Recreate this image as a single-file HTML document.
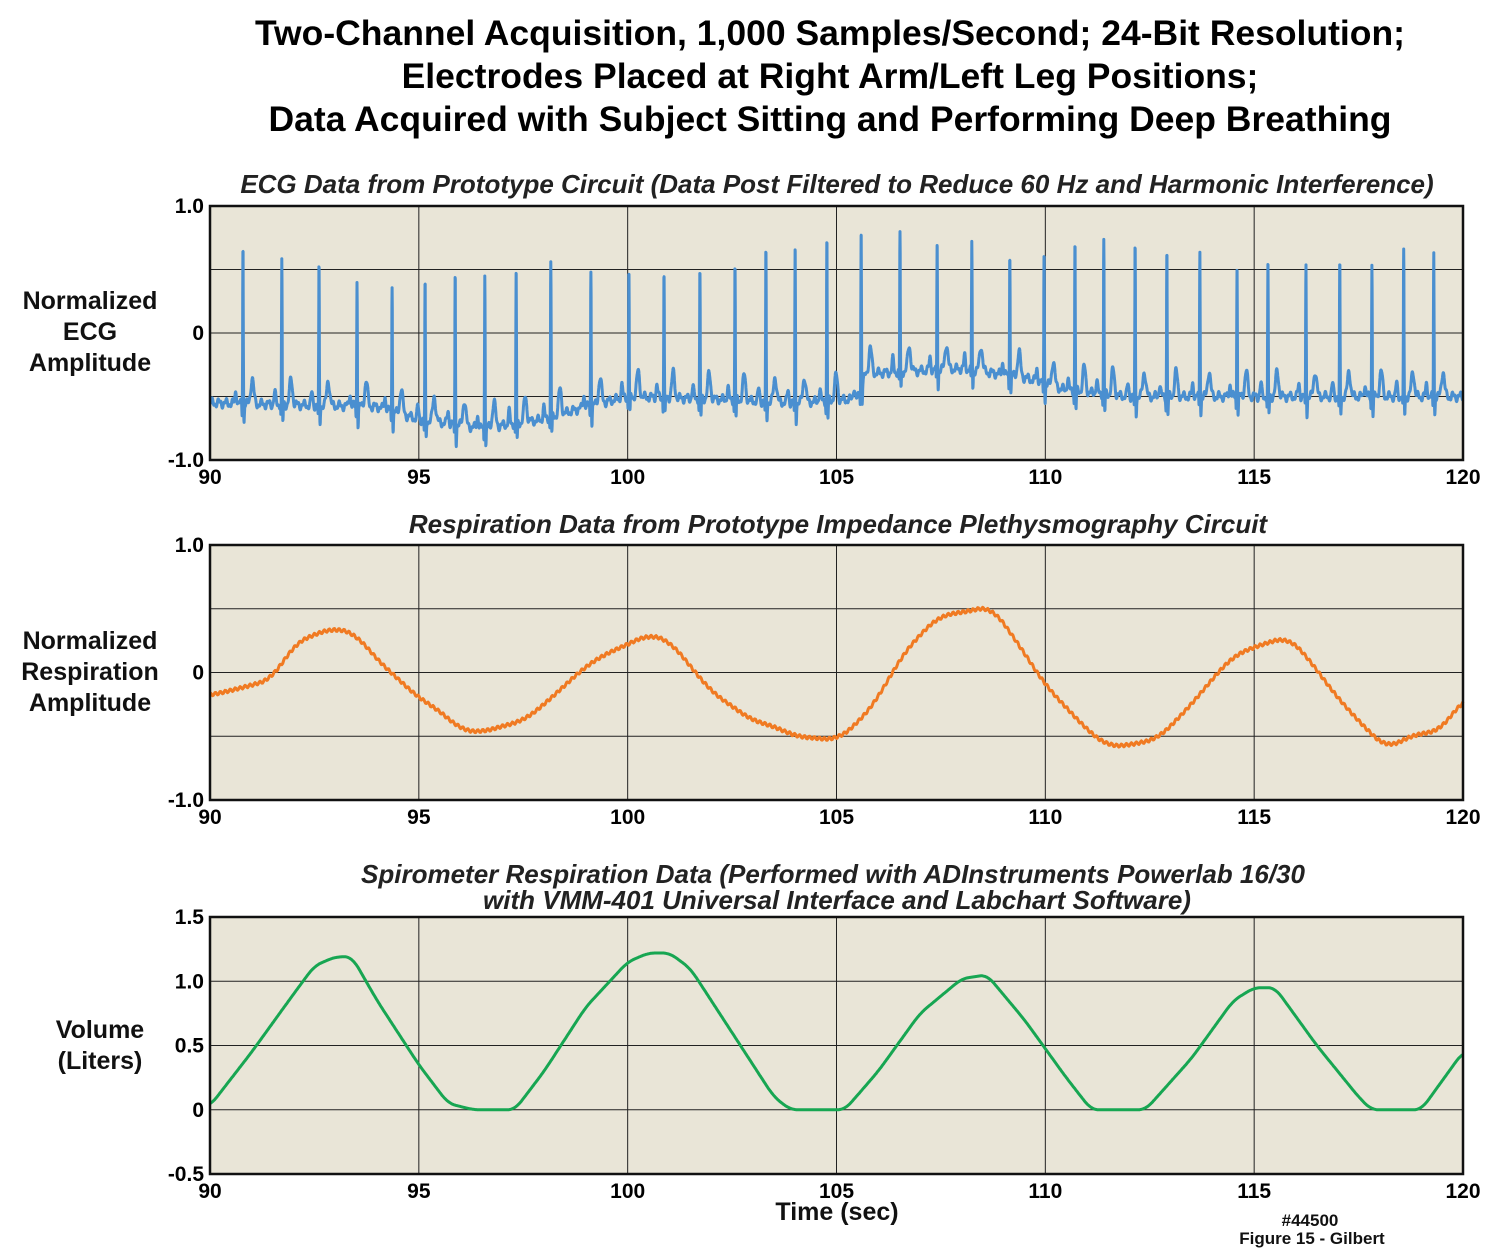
<!DOCTYPE html>
<html><head><meta charset="utf-8"><style>
body{margin:0;background:#fff;font-family:"Liberation Sans",Arial,sans-serif}
svg text{font-family:"Liberation Sans",Arial,sans-serif}
</style></head><body>
<svg id="s" width="1503" height="1254" xmlns="http://www.w3.org/2000/svg">
<g font-weight="bold" font-size="35.5" text-anchor="middle" fill="#000">
<text x="830" y="45">Two-Channel Acquisition, 1,000 Samples/Second; 24-Bit Resolution;</text>
<text x="830" y="88">Electrodes Placed at Right Arm/Left Leg Positions;</text>
<text x="830" y="131">Data Acquired with Subject Sitting and Performing Deep Breathing</text>
</g>
<g font-weight="bold" font-style="italic" font-size="26" text-anchor="middle" fill="#222">
<text x="837" y="193">ECG Data from Prototype Circuit (Data Post Filtered to Reduce 60 Hz and Harmonic Interference)</text>
<text x="838" y="533">Respiration Data from Prototype Impedance Plethysmography Circuit</text>
<text x="833" y="883">Spirometer Respiration Data (Performed with ADInstruments Powerlab 16/30</text>
<text x="837" y="909">with VMM-401 Universal Interface and Labchart Software)</text>
</g>
<g font-size="25" font-weight="600" text-anchor="middle" fill="#111">
<text x="90" y="309">Normalized</text>
<text x="90" y="340">ECG</text>
<text x="90" y="371">Amplitude</text>
<text x="90" y="649">Normalized</text>
<text x="90" y="680">Respiration</text>
<text x="90" y="711">Amplitude</text>
<text x="100" y="1038">Volume</text>
<text x="100" y="1069">(Liters)</text>
<text x="837" y="1220">Time (sec)</text>
</g>
<g font-weight="bold" font-size="17" text-anchor="middle" fill="#111">
<text x="1310" y="1226">#44500</text>
<text x="1312" y="1244">Figure 15 - Gilbert</text>
</g>
</svg>
<script>
const xTicks=[90,95,100,105,110,115,120];
const beatTimes=[90.79,91.72,92.61,93.52,94.36,95.15,95.87,96.58,97.33,98.16,99.12,100.03,100.87,101.73,102.57,103.31,104.01,104.77,105.59,106.52,107.41,108.24,109.15,109.97,110.71,111.40,112.15,112.91,113.70,114.59,115.33,116.24,117.05,117.82,118.58,119.30];
const beatAmps=[0.72,0.56,0.53,0.42,0.39,0.40,0.49,0.49,0.51,0.57,0.51,0.51,0.49,0.49,0.55,0.65,0.69,0.76,0.83,0.79,0.74,0.72,0.65,0.67,0.73,0.73,0.69,0.66,0.66,0.57,0.55,0.54,0.54,0.55,0.63,0.65];
const baseT=[90,94,95,96.5,98,99,100,102,104,105.5,105.7,108,109.5,110.5,112,115,120];
const baseV=[-0.55,-0.58,-0.68,-0.75,-0.68,-0.58,-0.5,-0.52,-0.55,-0.52,-0.32,-0.28,-0.35,-0.45,-0.5,-0.5,-0.5];
const respT=[90,91,91.5,92,92.5,93,93.5,94,95,95.5,96,96.5,97,97.5,98,99,99.5,100,100.5,101,101.5,102,103,103.5,104,105,105.5,106,106.5,107,107.5,108,108.7,109.3,110,111,111.5,112,112.7,113.5,114,114.5,115,115.8,116.2,117,117.7,118.2,118.7,119.5,120];
const respV=[-0.18,-0.1,-0.05,0.22,0.3,0.35,0.3,0.1,-0.2,-0.3,-0.45,-0.47,-0.42,-0.38,-0.25,0.05,0.15,0.22,0.3,0.25,0.05,-0.15,-0.38,-0.42,-0.5,-0.53,-0.4,-0.2,0.1,0.3,0.45,0.47,0.52,0.25,-0.1,-0.45,-0.58,-0.57,-0.52,-0.25,-0.05,0.13,0.2,0.28,0.15,-0.2,-0.45,-0.6,-0.5,-0.45,-0.2];
const spiroT=[90,91,92,92.5,93,93.4,94,95,95.7,96.3,97.3,98,99,100,100.5,101,101.5,102.5,103.5,103.9,105.2,106,107,108,108.6,109.5,110.5,111.1,112.4,113.5,114.5,115,115.5,116.5,117.5,117.8,119,120];
const spiroV=[0.03,0.45,0.9,1.12,1.19,1.19,0.85,0.35,0.05,0,0,0.3,0.8,1.15,1.22,1.22,1.1,0.6,0.1,0,0,0.3,0.75,1.02,1.05,0.7,0.25,0,0,0.4,0.85,0.95,0.95,0.5,0.1,0,0,0.45];
const ecgTicks=["1.0","0","-1.0"],respTicks=["1.0","0","-1.0"],spiroTicks=["1.5","1.0","0.5","0","-0.5"];
const NS="http://www.w3.org/2000/svg",svg=document.getElementById('s');
const X0=210,X1=1463;
const sx=t=>X0+(t-90)/30*(X1-X0);
function mk(tag,at,parent){const e=document.createElementNS(NS,tag);for(const k in at)e.setAttribute(k,at[k]);(parent||svg).appendChild(e);return e;}
function interp(T,V,t){if(t<=T[0])return V[0];for(let i=1;i<T.length;i++)if(t<=T[i]){const f=(t-T[i-1])/(T[i]-T[i-1]);return V[i-1]+f*(V[i]-V[i-1]);}return V[V.length-1];}
function smooth(T,V,t,K){let s=0,n=0;for(let k=-K;k<=K;k++){s+=interp(T,V,t+k*0.05);n++;}return s/n;}
function panel(name,top,bot,ymin,ymax,yTickVals,yTickLbl,color,fn,step,grid){
  const sy=v=>bot-(v-ymin)/(ymax-ymin)*(bot-top);
  const g=mk('g',{});
  
  
  mk('rect',{x:X0,y:top,width:X1-X0,height:bot-top,fill:'#e9e5d7'},g);
  grid.forEach(v=>{const y=sy(v);mk('line',{x1:X0,x2:X1,y1:y,y2:y,stroke:'#222','stroke-width':1},g);});
  xTicks.forEach((t,i)=>{if(i>0&&i<xTicks.length-1)mk('line',{x1:sx(t),x2:sx(t),y1:top,y2:bot,stroke:'#222','stroke-width':1},g);
    const tx=mk('text',{x:sx(t),y:bot+24,'text-anchor':'middle','font-size':21,'font-weight':'bold'},g);tx.textContent=t;
    
    });
  yTickVals.forEach((v,i)=>{const tx=mk('text',{x:X0-6,y:sy(v)+7,'text-anchor':'end','font-size':21,'font-weight':'bold'},g);tx.textContent=yTickLbl[i];
    
    });
  let d='';for(let t=90;t<=120.0001;t+=step){const v=fn(t);d+=(d?'L':'M')+sx(t).toFixed(1)+','+sy(v).toFixed(1);}
  const p=mk('path',{d:d,fill:'none',stroke:color,'stroke-width':3,'stroke-linejoin':'round'},g);
  
  
  mk('rect',{x:X0,y:top,width:X1-X0,height:bot-top,fill:'none',stroke:'#111','stroke-width':2.5},g);
}
const gs=(t,c,s)=>Math.exp(-((t-c)*(t-c))/(2*s*s));
function ecg(t){
  let b=interp(baseT,baseV,t);let v=b+0.025*Math.sin(t*37)+0.015*Math.sin(t*91);
  for(let i=0;i<beatTimes.length;i++){const tb=beatTimes[i],A=beatAmps[i]-interp(baseT,baseV,tb);
    if(Math.abs(t-tb)>0.6)continue;
    v+=A*gs(t,tb,0.007)-0.1*gs(t,tb-0.02,0.006)-0.14*gs(t,tb+0.025,0.008)+0.1*gs(t,tb-0.17,0.02)+0.2*gs(t,tb+0.22,0.035);}
  return v;}
panel('ecg',206,460,-1,1,[1,0,-1],ecgTicks,'#4a8fd0',ecg,0.004,[0.5,0,-0.5]);
panel('resp',545,800,-1,1,[1,0,-1],respTicks,'#f07a22',t=>smooth(respT,respV,t,6)+0.012*Math.sin(t*53),0.02,[0.5,0,-0.5]);
panel('spiro',917,1174,-0.5,1.5,[1.5,1,0.5,0,-0.5],spiroTicks,'#17a652',t=>smooth(spiroT,spiroV,t,3),0.02,[1,0.5,0]);
</script>
</body></html>
